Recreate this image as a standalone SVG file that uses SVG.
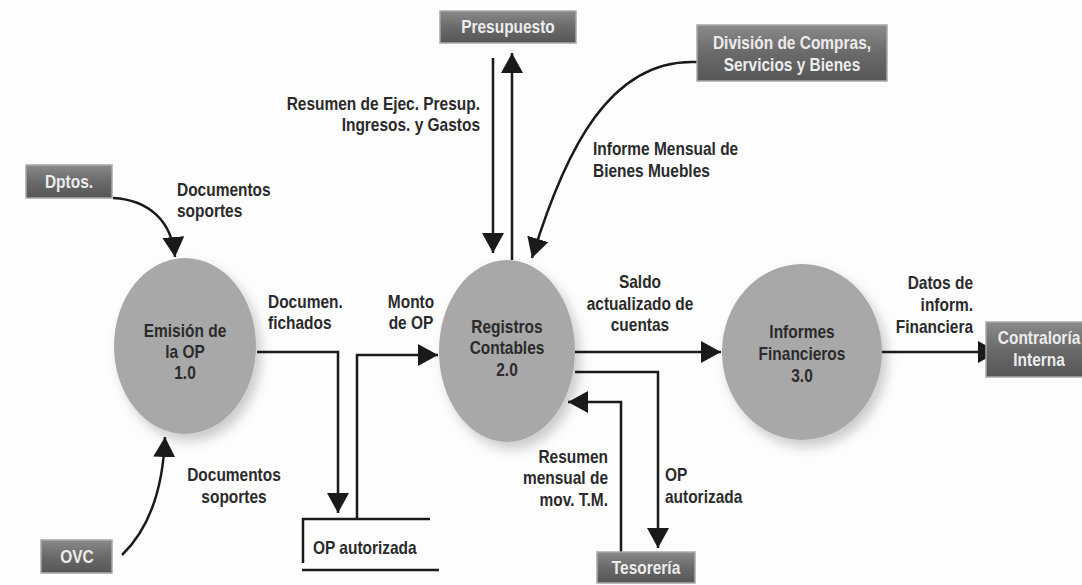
<svg xmlns="http://www.w3.org/2000/svg" width="1082" height="585" viewBox="0 0 1082 585">
<defs>
<style>
text{transform-box:fill-box;transform:scaleX(0.86)}
.lbl{font-family:"Liberation Sans",Arial,sans-serif;font-weight:bold;font-size:18px;fill:#2b2b2b;transform-origin:left center}
.btx{font-family:"Liberation Sans",Arial,sans-serif;font-weight:bold;font-size:18px;fill:#ececec;text-anchor:middle;transform-origin:center}
.mid{text-anchor:middle;transform-origin:center}
.end{text-anchor:end;transform-origin:right center}
.box{fill:url(#bg);stroke:#a8a8a8;stroke-width:1.5}
.proc{fill:#a8a8a8;filter:url(#sh)}
.ln{fill:none;stroke:#1a1a1a;stroke-width:2.5}
.arr{marker-end:url(#ah)}
</style>
<linearGradient id="bg" x1="0" y1="0" x2="0" y2="1">
<stop offset="0" stop-color="#8a8a8a"/>
<stop offset="0.5" stop-color="#6a6a6a"/>
<stop offset="1" stop-color="#565656"/>
</linearGradient>
<filter id="sh" x="-20%" y="-20%" width="150%" height="150%">
<feDropShadow dx="5" dy="7" stdDeviation="6" flood-color="#000" flood-opacity="0.2"/>
</filter>
<marker id="ah" viewBox="0 0 20 22" refX="20" refY="11" markerWidth="20" markerHeight="22" markerUnits="userSpaceOnUse" orient="auto">
<path d="M0,0 L20,11 L0,22 Z" fill="#1a1a1a"/>
</marker>
</defs>
<rect x="0" y="0" width="1082" height="585" fill="#fdfdfd"/>

<g id="connectors">
<path class="ln arr" d="M113,198 C150,200 172,222 175,257"/>
<path class="ln arr" d="M122,555 C148,530 163,490 165,437"/>
<path class="ln arr" d="M493,58 V253"/>
<path class="ln arr" d="M512,260 V53"/>
<path class="ln arr" d="M697,62 C610,58 565,150 532,258"/>
<path class="ln arr" d="M257,352 H338 V513"/>
<path class="ln arr" d="M357,519 V355 H438"/>
<path class="ln arr" d="M575,352 H721"/>
<path class="ln arr" d="M575,372 H658 V548"/>
<path class="ln arr" d="M621,552 V402 H568"/>
<path class="ln arr" d="M882,352 H998"/>
</g>

<g id="labels">
<text class="lbl" x="177" y="196">Documentos</text>
<text class="lbl" x="177" y="217">soportes</text>
<text class="lbl end" x="480" y="110">Resumen de  Ejec. Presup.</text>
<text class="lbl end" x="480" y="131">Ingresos. y Gastos</text>
<text class="lbl" x="593" y="155">Informe  Mensual de</text>
<text class="lbl" x="593" y="177">Bienes Muebles</text>
<text class="lbl" x="268" y="308">Documen.</text>
<text class="lbl" x="268" y="329">fichados</text>
<text class="lbl mid" x="411" y="308">Monto</text>
<text class="lbl mid" x="411" y="329">de OP</text>
<text class="lbl mid" x="640" y="288">Saldo</text>
<text class="lbl mid" x="640" y="310">actualizado de</text>
<text class="lbl mid" x="640" y="331">cuentas</text>
<text class="lbl end" x="973" y="289">Datos de</text>
<text class="lbl end" x="973" y="311">inform.</text>
<text class="lbl end" x="973" y="333">Financiera</text>
<text class="lbl mid" x="234" y="481">Documentos</text>
<text class="lbl mid" x="234" y="503">soportes</text>
<text class="lbl end" x="608" y="463">Resumen</text>
<text class="lbl end" x="608" y="484">mensual de</text>
<text class="lbl end" x="608" y="506">mov. T.M.</text>
<text class="lbl" x="665" y="481">OP</text>
<text class="lbl" x="665" y="503">autorizada</text>
</g>

<g id="p1">
<ellipse class="proc" cx="185" cy="346" rx="71" ry="88"/>
<text class="lbl mid" x="185" y="337">Emisión de</text>
<text class="lbl mid" x="185" y="358">la OP</text>
<text class="lbl mid" x="185" y="379">1.0</text>
</g>
<g id="p2">
<ellipse class="proc" cx="507" cy="351" rx="68" ry="91"/>
<text class="lbl mid" x="507" y="333">Registros</text>
<text class="lbl mid" x="507" y="354">Contables</text>
<text class="lbl mid" x="507" y="376">2.0</text>
</g>
<g id="p3">
<ellipse class="proc" cx="802" cy="352" rx="80" ry="88"/>
<text class="lbl mid" x="802" y="338">Informes</text>
<text class="lbl mid" x="802" y="360">Financieros</text>
<text class="lbl mid" x="802" y="382">3.0</text>
</g>

<g id="store">
<path class="ln" d="M430,519 H303 V563"/>
<path class="ln" d="M302,570 H439"/>
<text class="lbl" x="313" y="554">OP autorizada</text>
</g>

<g id="dptos">
<rect class="box" x="26" y="165" width="86" height="33"/>
<text class="btx" x="69" y="188">Dptos.</text>
</g>
<g id="ovc">
<rect class="box" x="41" y="540" width="71" height="33"/>
<text class="btx" x="77" y="563">OVC</text>
</g>
<g id="presupuesto">
<rect class="box" x="440" y="11" width="136" height="32"/>
<text class="btx" x="508" y="33">Presupuesto</text>
</g>
<g id="division">
<rect class="box" x="697" y="25" width="190" height="56"/>
<text class="btx" x="792" y="49">División de Compras,</text>
<text class="btx" x="792" y="71">Servicios y Bienes</text>
</g>
<g id="tesoreria">
<rect class="box" x="597" y="552" width="98" height="31"/>
<text class="btx" x="646" y="574">Tesorería</text>
</g>
<g id="contraloria">
<rect class="box" x="986" y="322" width="100" height="55"/>
<text class="btx" x="1039" y="344">Contraloría</text>
<text class="btx" x="1039" y="366">Interna</text>
</g>
</svg>
